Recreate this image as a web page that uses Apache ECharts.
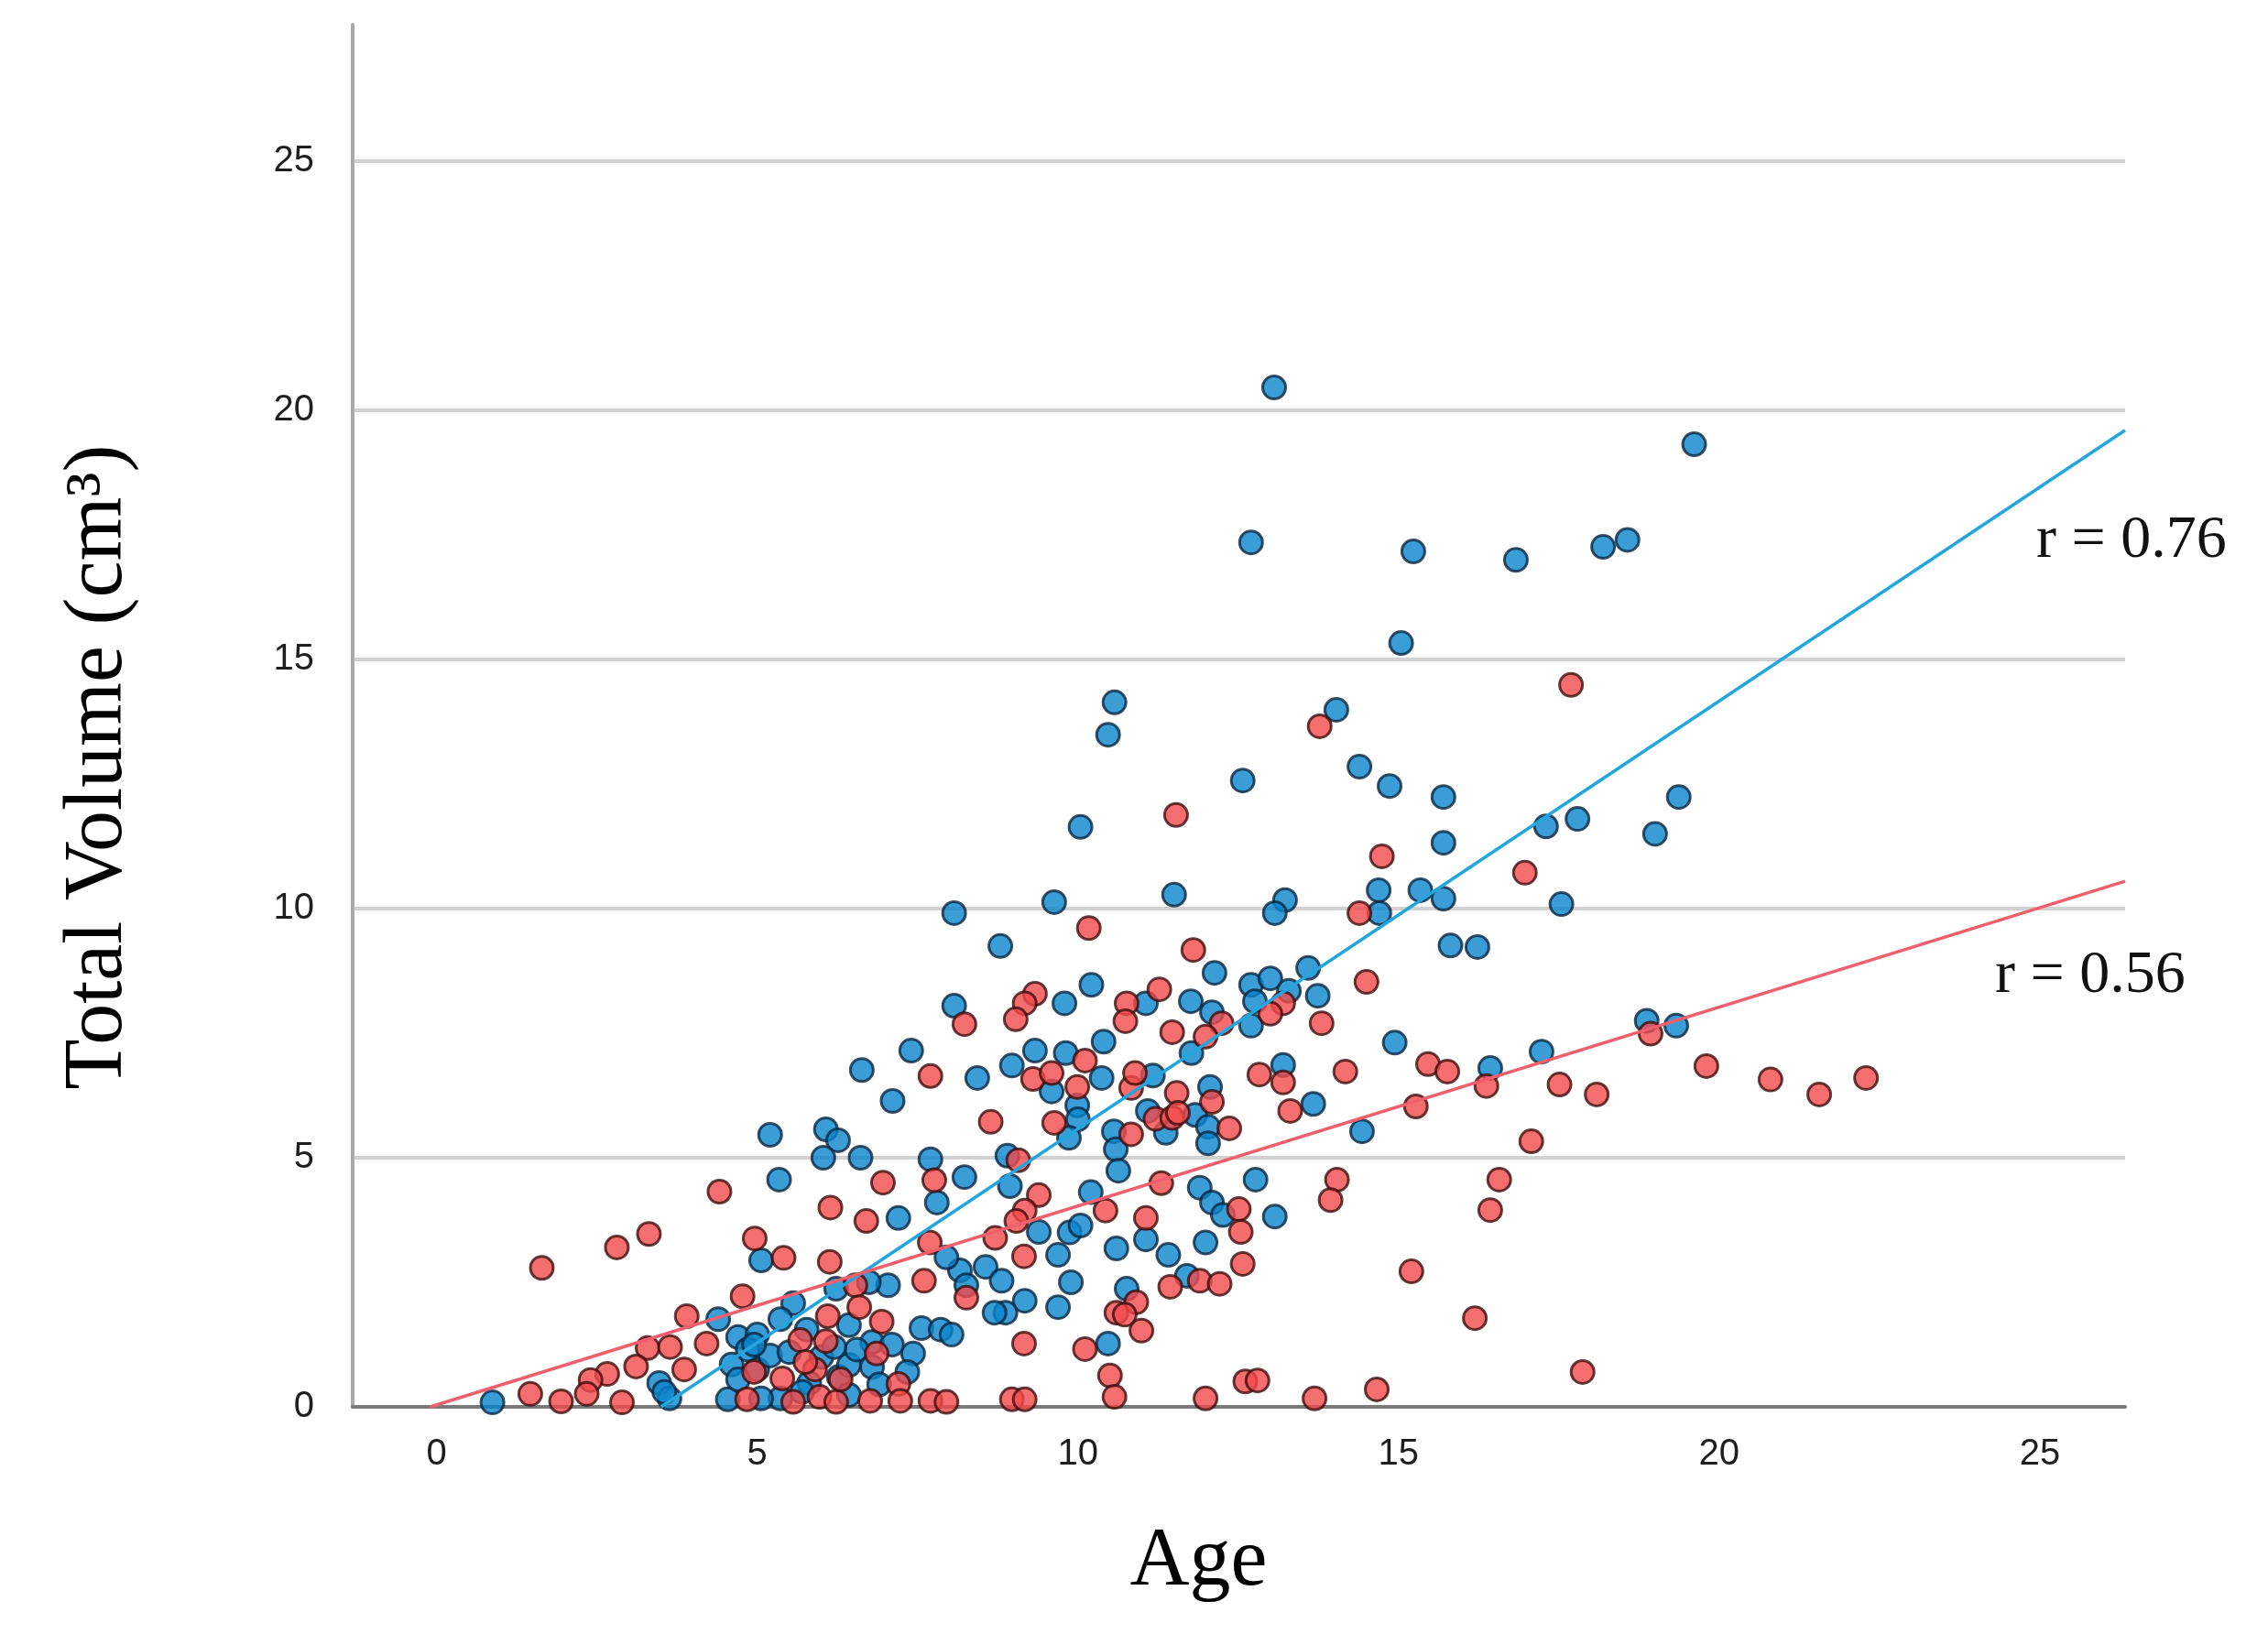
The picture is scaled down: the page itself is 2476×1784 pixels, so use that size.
<!DOCTYPE html>
<html>
<head>
<meta charset="utf-8">
<script src="https://cdn.jsdelivr.net/npm/echarts@6/dist/echarts.min.js"></script>
<style>html,body{margin:0;padding:0;background:#fff}#c{width:2476px;height:1784px}</style>
</head>
<body>
<div id="c"></div>
<script>
// Age (years), Total Volume (cm3) — blue group
var bluePoints = [
[6.63,6.76],[7.4,7.15],[7.11,6.14],[5.2,5.46],[6.07,5.57],[6.26,5.35],[6.03,5.0],[6.61,5.0],[7.7,4.97],[5.34,4.56],
[7.8,4.1],[7.2,3.79],[5.06,2.94],[7.04,2.44],[6.74,2.5],[6.23,2.37],[5.56,2.08],[6.43,1.64],[7.56,1.58],[7.86,1.55],
[4.39,1.76],[5.36,1.76],[4.7,1.4],[5.0,1.45],[5.77,1.55],[6.79,1.3],[7.43,1.07],[3.47,0.48],[3.63,0.17],[0.87,0.09],
[4.6,0.85],[5.0,0.75],[6.27,0.6],[6.43,0.84],[6.79,0.8],[7.34,0.7],[4.54,0.15],[5.36,0.17],[5.2,1.03],[5.81,0.48],
[6.43,0.24],[5.06,0.17],[4.85,1.15],[3.55,0.3],[4.95,1.25],[5.5,1.1],[6.0,1.0],[6.55,1.15],[7.1,1.25],[5.7,0.3],
[6.9,0.45],[4.7,0.55],[6.2,1.2],
[8.43,6.6],[8.97,6.85],[9.59,6.33],[10.37,6.6],[11.17,6.65],[9.99,6.05],[10.0,5.77],[9.86,5.4],[10.56,5.53],[10.59,5.17],
[10.63,4.74],[11.09,5.94],[11.37,5.5],[11.83,5.86],[12.06,6.42],[12.03,5.62],[12.03,5.29],[13.2,6.86],[13.67,6.08],[14.43,5.53],
[8.9,5.04],[8.23,4.61],[8.94,4.43],[10.2,4.31],[9.39,3.51],[9.87,3.5],[10.04,3.64],[10.6,3.18],[11.06,3.36],[11.41,3.05],
[11.9,4.4],[12.09,4.1],[12.26,3.85],[12.77,4.56],[13.07,3.82],[11.99,3.3],[9.69,3.05],[8.56,2.81],[8.16,2.74],[8.81,2.53],
[8.26,2.44],[9.17,2.13],[8.87,1.89],[8.7,1.89],[9.89,2.5],[9.69,2.0],[10.76,2.37],[11.7,2.63],[8.03,1.45],[10.47,1.27],
[7.95,3.0],[9.33,7.15],[9.81,7.1],[11.77,7.1],
[10.57,14.14],[10.47,13.49],[14.03,13.99],[12.57,12.57],[14.39,12.85],[14.86,12.46],[15.7,12.24],[15.7,11.32],[10.04,11.64],[9.63,10.13],
[11.5,10.28],[8.07,9.91],[13.23,10.17],[13.07,9.91],[14.69,10.37],[14.7,9.91],[15.34,10.37],[15.7,10.2],[15.81,9.26],[8.79,9.25],
[12.13,8.71],[10.21,8.47],[8.07,8.05],[9.79,8.1],[11.06,8.1],[11.76,8.14],[12.09,7.92],[12.7,8.47],[13.0,8.6],[13.29,8.35],
[12.76,8.14],[13.59,8.81],[13.74,8.25],[12.7,7.65],[10.4,7.33],[14.94,7.31],
[19.61,19.32],[16.83,17.0],[18.19,17.26],[18.57,17.4],[17.3,11.65],[17.79,11.8],[19.37,12.24],[19.0,11.5],[17.54,10.09],
[16.23,9.23],[18.87,7.75],[19.33,7.65],[17.23,7.13],[16.43,6.8],
[13.06,20.46],[12.7,17.35],[15.23,17.17],[15.04,15.33]
];
// Age (years), Total Volume (cm3) — red group
var redPoints = [
[7.7,6.64],[4.41,4.32],[6.96,4.5],[7.76,4.55],[6.14,4.0],[6.7,3.73],[3.31,3.47],[2.81,3.2],[1.64,2.79],[4.96,3.38],
[5.41,2.99],[6.13,2.91],[7.69,3.3],[7.6,2.53],[6.53,2.44],[4.77,2.22],[6.59,2.0],[6.1,1.82],[6.94,1.71],[3.9,1.82],
[4.21,1.27],[5.67,1.34],[6.07,1.32],[6.86,1.07],[3.29,1.18],[3.64,1.2],[3.11,0.81],[3.86,0.75],[2.66,0.66],[2.4,0.54],
[2.34,0.26],[1.46,0.26],[1.94,0.11],[2.89,0.09],[5.39,0.57],[5.9,0.75],[7.2,0.46],[4.84,0.15],[5.56,0.1],[5.97,0.2],
[6.23,0.1],[6.76,0.12],[7.23,0.12],[7.7,0.12],[5.75,0.9],[6.3,0.55],[4.95,0.7],
[9.3,6.58],[9.59,6.7],[10.11,6.95],[9.99,6.42],[10.83,6.4],[10.89,6.7],[8.64,5.72],[9.63,5.7],[10.83,5.47],[11.21,5.78],
[11.47,5.8],[11.54,6.3],[11.56,5.9],[12.09,6.12],[12.36,5.59],[12.83,6.67],[13.2,6.51],[14.17,6.73],[15.46,6.88],[15.76,6.73],
[13.31,5.94],[15.27,6.03],[9.07,4.95],[9.39,4.25],[9.17,3.94],[9.04,3.73],[8.71,3.39],[10.43,3.94],[11.3,4.49],[11.06,3.79],
[12.51,3.97],[12.54,3.51],[12.57,2.87],[14.04,4.56],[13.94,4.15],[15.2,2.72],[9.16,3.02],[8.26,2.19],[10.91,2.1],[10.6,1.89],
[10.73,1.85],[10.99,1.53],[11.44,2.41],[11.9,2.53],[12.21,2.47],[9.16,1.27],[10.11,1.16],[10.5,0.63],[10.57,0.2],[8.97,0.15],
[9.17,0.15],[7.95,0.1],[11.99,0.17],[12.61,0.51],[12.8,0.53],[13.69,0.17],[14.66,0.35],
[13.77,13.66],[11.53,11.88],[14.74,11.05],[14.39,9.91],[10.17,9.61],[11.8,9.17],[9.33,8.29],[9.17,8.1],[9.03,7.78],[8.23,7.68],
[10.76,8.1],[10.74,7.74],[11.27,8.38],[11.47,7.52],[12.24,7.7],[11.99,7.43],[13.2,8.1],[13.0,7.89],[14.5,8.53],[13.8,7.7],
[17.69,14.49],[16.97,10.72],
[18.93,7.49],[16.37,6.44],[17.51,6.47],[18.09,6.27],[19.8,6.84],[20.8,6.57],[21.56,6.27],[22.29,6.6],[17.07,5.33],[16.57,4.56],
[16.43,3.95],[16.19,1.78],[17.87,0.7]
];
// fit lines (start, end)
var blueFit = [[3.5,0],[26.33,19.6]];
var redFit = [[-0.1,0],[26.33,10.55]];
var blueR = 'r = 0.76';
var redR = 'r = 0.56';
var xTicks = [0,5,10,15,20,25];
var xRange = [-1.31, 26.33];
var yRange = [0, 27.74];
var yStep = 5;
var xTitle = 'Age';
var yTitle = 'Total Volume (cm³)';

var chart = echarts.init(document.getElementById('c'), null, {renderer:'canvas'});
var serif = '"Liberation Serif","DejaVu Serif",serif';
function fitLine(data, color, text, off){
  return {
    type:'line', data:data,
    showSymbol:false, symbol:'none',
    lineStyle:{color:color, width:3.5}, z:5, silent:true, animation:false, clip:true,
    endLabel:{show:true, formatter:text, align:'left', verticalAlign:'middle', distance:0, offset:off,
      fontFamily:serif, fontSize:66, color:'#111'}
  };
}
chart.setOption({
  animation:false,
  backgroundColor:'#fff',
  grid:{left:385, right:156, top:27, bottom:248, containLabel:false},
  xAxis:{
    type:'value', min:xRange[0], max:xRange[1],
    name:xTitle, nameLocation:'middle', nameGap:125,
    nameTextStyle:{fontFamily:serif, fontSize:90, color:'#000', padding:[0,88,0,0]},
    axisLine:{show:true, onZero:false, lineStyle:{color:'#7a7a7a', width:4}},
    axisTick:{show:false},
    axisLabel:{customValues:xTicks, margin:32, fontFamily:'"Liberation Sans",Arial,sans-serif', fontSize:40, color:'#1e1e1e'},
    splitLine:{show:false}
  },
  yAxis:{
    type:'value', min:yRange[0], max:yRange[1], interval:yStep,
    name:yTitle, nameLocation:'middle', nameGap:232, nameRotate:90,
    nameTextStyle:{fontFamily:serif, fontSize:90, color:'#000', padding:[0,112,0,0]},
    axisLine:{show:true, onZero:false, lineStyle:{color:'#aaaaaa', width:4}},
    axisTick:{show:false},
    axisLabel:{margin:42, showMaxLabel:false, fontFamily:'"Liberation Sans",Arial,sans-serif', fontSize:40, color:'#1e1e1e'},
    splitLine:{show:true, showMinLine:false, showMaxLine:false, lineStyle:{color:'#d2d2d2', width:4}}
  },
  series:[
    {type:'scatter', data:bluePoints, symbolSize:25, itemStyle:{color:'#0a84cc', borderColor:'#082540', borderWidth:3}, z:2},
    {type:'scatter', data:redPoints, symbolSize:25, itemStyle:{color:'#f24a4b', borderColor:'#3f0d0d', borderWidth:3}, z:3},
    fitLine(blueFit, '#22a6dd', blueR, [-97,121]),
    fitLine(redFit, '#ef5f6d', redR, [-142,104])
  ]
});
</script>
</body>
</html>
